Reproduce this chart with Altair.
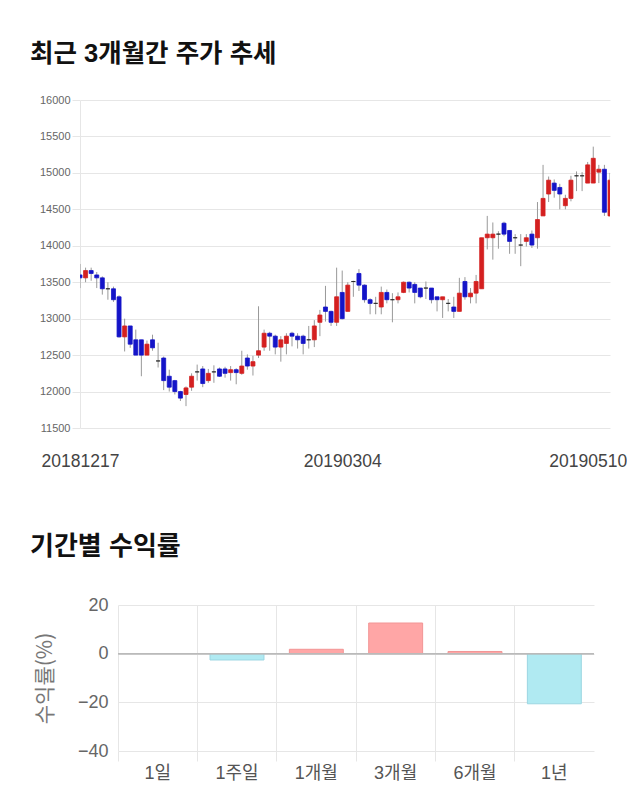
import altair as alt
import pandas as pd
import numpy as np

FONT = "Liberation Sans, Noto Sans CJK KR"
KFONT = "Noto Sans CJK KR"

# ---- candlestick data (daily, 20181217 .. 20190510) ----
opens = [13600, 13560, 13660, 13600, 13560, 13410, 13410, 13300, 12750, 12900,
         12710, 12710, 12500, 12710, 12420, 12460, 12210, 12150, 12000, 11960,
         12060, 12270, 12310, 12150, 12270, 12310, 12310, 12260, 12300, 12250,
         12460, 12350, 12500, 12610, 12800, 12760, 12610, 12660, 12800, 12760,
         12760, 12710, 12710, 12950, 13160, 13100, 12950, 13360, 13100, 13510,
         13620, 13460, 13260, 13210, 13160, 13360, 13260, 13260, 13360, 13500,
         13470, 13420, 13420, 13420, 13300, 13260, 13210, 13160, 13100, 13510,
         13300, 13350, 13410, 14110, 14110, 14160, 14310, 14210, 14110, 14010,
         14060, 14160, 14110, 14410, 14710, 14860, 14800, 14550, 14650, 14960,
         14960, 14860, 14860, 15010, 15050, 14410]
highs = [13750, 13700, 13700, 13640, 13580, 13500, 13440, 13320, 13000, 12900,
         12850, 12710, 12700, 12780, 12670, 12480, 12300, 12160, 12010, 12070,
         12250, 12370, 12350, 12310, 12360, 12330, 12340, 12350, 12320, 12560,
         12510, 12490, 13170, 12850, 12820, 12780, 12760, 12800, 12820, 12800,
         12780, 12900, 12980, 13120, 13450, 13110, 13700, 13660, 13500, 13520,
         13680, 13470, 13280, 13300, 13440, 13400, 13350, 13360, 13510, 13510,
         13500, 13420, 13510, 13420, 13300, 13300, 13270, 13300, 13560, 13570,
         13420, 13600, 14110, 14410, 14320, 14200, 14330, 14210, 14160, 14160,
         14160, 14210, 14600, 15110, 14950, 14910, 14850, 14700, 14960, 15020,
         15010, 15150, 15360, 15110, 15110, 15000]
lows = [13420, 13500, 13520, 13420, 13330, 13260, 13230, 12740, 12550, 12600,
        12500, 12210, 12500, 12560, 12330, 12020, 12000, 11960, 11870, 11800,
        12010, 12150, 12060, 12120, 12120, 12200, 12190, 12150, 12100, 12230,
        12300, 12220, 12460, 12560, 12560, 12510, 12410, 12510, 12620, 12590,
        12510, 12590, 12610, 12760, 12960, 12900, 12900, 12990, 13100, 13300,
        13380, 13220, 13060, 13060, 13060, 13210, 12950, 13210, 13350, 13360,
        13210, 13280, 13270, 13210, 13100, 13010, 13100, 13010, 13100, 13260,
        13210, 13210, 13410, 13950, 13810, 13960, 14130, 13890, 13890, 13720,
        13990, 13970, 13960, 14410, 14600, 14660, 14500, 14500, 14610, 14750,
        14750, 14860, 14860, 14860, 14410, 14400]
closes = [13560, 13660, 13620, 13560, 13410, 13410, 13260, 12750, 12900, 12650,
          12500, 12500, 12650, 12600, 12420, 12150, 12060, 12000, 11910, 12050,
          12210, 12270, 12110, 12250, 12270, 12210, 12250, 12300, 12260, 12350,
          12350, 12410, 12560, 12800, 12760, 12610, 12710, 12760, 12760, 12710,
          12660, 12710, 12900, 13050, 13100, 12950, 13300, 13000, 13460, 13510,
          13460, 13260, 13210, 13210, 13360, 13260, 13260, 13300, 13500, 13420,
          13360, 13300, 13420, 13260, 13260, 13300, 13210, 13100, 13350, 13300,
          13350, 13510, 14110, 14160, 14160, 14160, 14160, 14060, 14110, 14010,
          14110, 14010, 14360, 14650, 14900, 14760, 14710, 14650, 14900, 14960,
          14960, 15110, 15200, 15050, 14460, 14900]
date_labels = ["20181217", "20190304", "20190510"]
date_label_idx = [0, 47, 91]
price_ticks = [11500, 12000, 12500, 13000, 13500, 14000, 14500, 15000, 15500, 16000]

# ---- period returns ----
periods = ["1일", "1주일", "1개월", "3개월", "6개월", "1년"]
returns = [0.0, -2.6, 1.8, 12.6, 0.9, -20.6]

df = pd.DataFrame({"i": list(range(len(opens))), "open": opens, "high": highs,
                   "low": lows, "close": closes})
df["dir"] = np.where(df["close"] > df["open"], "up",
                     np.where(df["close"] < df["open"], "down", "flat"))

label_expr = ""
for ix, lab in zip(date_label_idx, date_labels):
    label_expr += f"datum.value == {ix} ? '{lab}' : "
label_expr += "''"

xscale = alt.Scale(domain=[0, 95], nice=False, zero=False, padding=0)
yscale = alt.Scale(domain=[11500, 16000], nice=False, zero=False, padding=0)
dir_scale = alt.Scale(domain=["up", "down", "flat"],
                      range=["#D42020", "#1414C8", "#222222"])

x_axis = alt.Axis(values=date_label_idx, labelExpr=label_expr, grid=False,
                  ticks=False, domain=False, labelFontSize=17.5, labelColor="#444",
                  labelPadding=24, title=None, labelFont=FONT, labelOverlap=False,
                  labelFlush=False, labelBound=False)
y_axis = alt.Axis(values=price_ticks, format="d", grid=True, gridColor="#e6e6e6",
                  domain=True, domainColor="#e6e6e6", ticks=True, tickColor="#e6e6e6",
                  tickSize=8, labelFontSize=11, labelColor="#666", labelPadding=2,
                  title=None, labelFont=FONT, labelOverlap=False)

wick = alt.Chart(df).mark_rule(color="#999999", strokeWidth=1, clip=True).encode(
    x=alt.X("i:Q", scale=xscale, axis=x_axis),
    y=alt.Y("low:Q", scale=yscale, axis=y_axis),
    y2="high:Q",
)
body = alt.Chart(df).mark_bar(size=4, clip=True, strokeWidth=0.8).encode(
    x=alt.X("i:Q", scale=xscale, axis=x_axis),
    y=alt.Y("open:Q", scale=yscale, axis=y_axis),
    y2="close:Q",
    color=alt.Color("dir:N", scale=dir_scale, legend=None),
    stroke=alt.Stroke("dir:N", scale=dir_scale, legend=None),
)
chart1 = alt.layer(wick, body).properties(
    width=530, height=328,
    title=alt.TitleParams("최근 3개월간 주가 추세", anchor="start", frame="group",
                          dx=-50, offset=27, fontSize=25.5, fontWeight="bold",
                          font=FONT, color="#111111"),
)

df2 = pd.DataFrame({"period": periods, "ret": returns})
df2["sign"] = np.where(df2["ret"] > 0, "pos", np.where(df2["ret"] < 0, "neg", "zero"))
sign_fill = alt.Scale(domain=["pos", "neg", "zero"],
                      range=["#FFA6A6", "#B0EAF2", "rgba(0,0,0,0)"])
sign_stroke = alt.Scale(domain=["pos", "neg", "zero"],
                        range=["#F29595", "#9CD6E2", "rgba(0,0,0,0)"])
ret_scale = alt.Scale(domain=[-40, 20], nice=False)
ret_axis = alt.Axis(values=[-40, -20, 0, 20], grid=True, gridColor="#e6e6e6",
                    domain=False, ticks=False, labelFontSize=18, labelColor="#666",
                    labelFont=FONT, labelPadding=10, offset=-38, title="수익률(%)",
                    titleFontSize=21, titleColor="#777", titleFontWeight="normal",
                    titleFont=KFONT, titlePadding=22)

bars = alt.Chart(df2).mark_bar(width=alt.RelativeBandSize(0.68), strokeWidth=1).encode(
    x=alt.X("period:N", sort=periods,
            scale=alt.Scale(range=[38, 514], paddingInner=0, paddingOuter=0),
            axis=alt.Axis(bandPosition=0, grid=True, gridColor="#e6e6e6", ticks=True,
                          tickColor="#e6e6e6", tickSize=10, domain=False, labelAngle=0,
                          labelFontSize=18, labelColor="#555", labelFont=FONT,
                          labelPadding=3, title=None)),
    y=alt.Y("ret:Q", scale=ret_scale, axis=ret_axis),
    color=alt.Color("sign:N", scale=sign_fill, legend=None),
    stroke=alt.Stroke("sign:N", scale=sign_stroke, legend=None),
)
zero = alt.Chart(df2).mark_rule(color="#bbbbbb", strokeWidth=1).encode(
    y=alt.datum(0),
    x=alt.value(38), x2=alt.value(514))
chart2 = alt.layer(bars, zero).properties(
    width=514, height=146,
    title=alt.TitleParams("기간별 수익률", anchor="start", frame="group",
                          dx=-50, offset=36, fontSize=26, fontWeight="bold",
                          font=FONT, color="#111111"),
)

chart = alt.ConcatChart(concat=[chart1, chart2], columns=1, spacing=64).properties(
    padding={"left": 22, "top": 33, "right": 0, "bottom": 0},
).resolve_scale(color="independent", stroke="independent").configure_view(strokeWidth=0)

chart.save("out.html", embed_options={"renderer": "svg", "actions": False})
